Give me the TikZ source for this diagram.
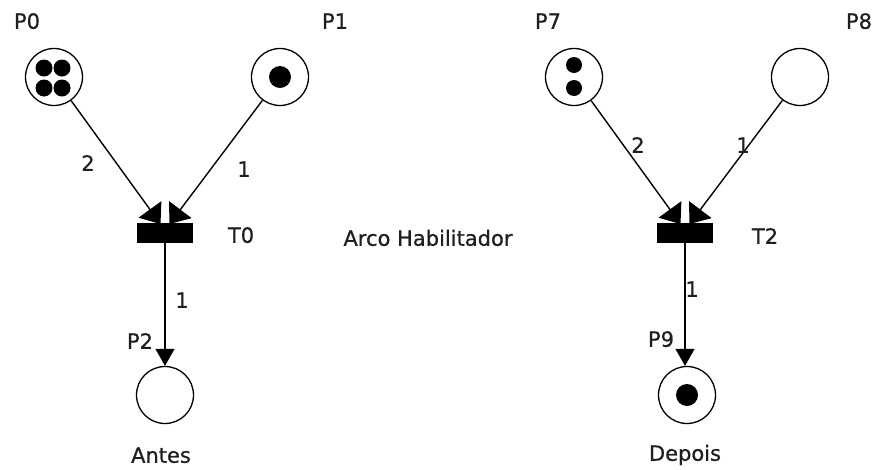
\documentclass[tikz,border=0pt]{standalone}
\usepackage{fontspec}
\setmainfont{DejaVu Sans}[FakeBold=0.7]
\usetikzlibrary{arrows.meta,calc}
\tikzset{
  lbl/.style={inner sep=0pt, font=\fontsize{21}{24}\selectfont, text=black!88, text height=15.5pt, text depth=0pt},
  place/.style={draw, circle, line width=1.3pt, minimum size=57pt, inner sep=0pt},
  trans/.style={fill=black, draw=none, minimum width=56pt, minimum height=20pt, inner sep=0pt},
  token/.style={fill=black, draw=none, circle, inner sep=0pt, minimum size=#1},
  inarc/.style={line width=1.4pt, -{Triangle[length=18pt,width=28pt]}},
  outarc/.style={line width=1.4pt, -{Triangle[length=17pt,width=19pt]}}
}
\begin{document}
\begin{tikzpicture}[x=1pt,y=-1pt]
\useasboundingbox (0,0) rectangle (875,469);
% ---------- left net (Antes) ----------
\node[place] (P0) at (54,77) {};
\node[place] (P1) at (280,77) {};
\node[trans] (T0) at (165,233) {};
\node[place] (P2) at (165,395) {};
\node[token=17pt] (k01) at (44,68) {};
\node[token=17pt] (k02) at (62,68) {};
\node[token=17pt] (k03) at (44,88) {};
\node[token=17pt] (k04) at (62,88) {};
\node[token=22pt] (k11) at (280,77) {};
\coordinate (T0a) at (160.5,224);
\coordinate (T0b) at (169.5,224);
\draw[inarc] (P0) -- (T0a);
\draw[inarc] (P1) -- (T0b);
\draw[outarc] (T0.south) -- (P2);
\node[lbl] (lP0) at (27,21) {P0};
\node[lbl] (lP1) at (335,21) {P1};
\node[lbl] (w01) at (88,163) {2};
\node[lbl] (w11) at (244,169) {1};
\node[lbl] (lT0) at (241,235) {T0};
\node[lbl] (w02) at (182,300) {1};
\node[lbl] (lP2) at (140,341) {P2};
\node[lbl] (antes) at (161,455) {Antes};
% ---------- middle ----------
\node[lbl] (arco) at (428,238) {Arco Habilitador};
% ---------- right net (Depois) ----------
\node[place] (P7) at (574,77) {};
\node[place] (P8) at (800,77) {};
\node[trans] (T2) at (685,233) {};
\node[place] (P9) at (687,395) {};
\node[token=16pt] (k71) at (574,65) {};
\node[token=16pt] (k72) at (574,88) {};
\node[token=22pt] (k91) at (687,395) {};
\coordinate (T2a) at (680.5,224);
\coordinate (T2b) at (689.5,224);
\draw[inarc] (P7) -- (T2a);
\draw[inarc] (P8) -- (T2b);
\draw[outarc] (T2.south) -- (T2.south |- P9.north);
\node[lbl] (lP7) at (548,21) {P7};
\node[lbl] (lP8) at (859,21) {P8};
\node[lbl] (w71) at (638,145) {2};
\node[lbl] (w81) at (743,145) {1};
\node[lbl] (lT2) at (765,236) {T2};
\node[lbl] (w92) at (692,289) {1};
\node[lbl] (lP9) at (661,339) {P9};
\node[lbl] (depois) at (685,453) {Depois};
\end{tikzpicture}
\end{document}
